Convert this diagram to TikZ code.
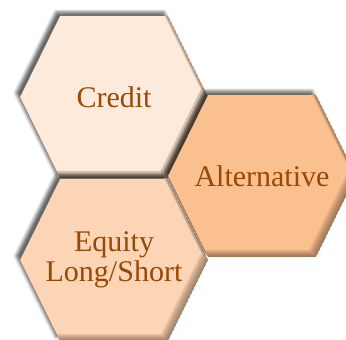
\documentclass[tikz,border=0pt]{standalone}
\usepackage{fontspec}
\newfontfamily\labelfont{Liberation Serif}
\usetikzlibrary{shadows.blur}

\definecolor{creditfill}{RGB}{253,234,218}
\definecolor{equityfill}{RGB}{251,213,181}
\definecolor{altfill}{RGB}{250,192,144}
\definecolor{labeltext}{RGB}{152,72,7}
\definecolor{edgeshade}{RGB}{100,70,50}

% hexagon round a centre, in pt
\newcommand{\hexpath}[2]{(#1-94,#2) -- (#1-54,#2+81) -- (#1+54,#2+81) -- (#1+94,#2) -- (#1+54,#2-81) -- (#1-54,#2-81) -- cycle}

\begin{document}
\begin{tikzpicture}[x=1pt, y=1pt,
    hexlabel/.style={text=labeltext, align=center, font=\labelfont\fontsize{30}{30}\selectfont},
    hexshadow/.style={blur shadow={shadow xshift=-4pt, shadow yshift=4pt, shadow blur radius=3pt, shadow opacity=60}}
]
\useasboundingbox (0,0) rectangle (346,340);

\foreach \cx/\cy/\hexfill/\hexname/\hextext in {
    114/243/creditfill/credit/Credit,
    262/164/altfill/alternative/Alternative,
    114/80/equityfill/equity/{Equity\\Long/Short}} {
    \fill[\hexfill, hexshadow] \hexpath{\cx}{\cy};
    % darker edge along the lower right
    \begin{scope}
        \clip \hexpath{\cx}{\cy};
        \foreach \k in {1,...,7}
            \fill[edgeshade, opacity=0.11, even odd rule] \hexpath{\cx}{\cy} \hexpath{\cx-\k}{\cy+\k};
    \end{scope}
    \node[hexlabel] (\hexname) at (\cx,\cy) {\hextext};
}
\end{tikzpicture}
\end{document}
